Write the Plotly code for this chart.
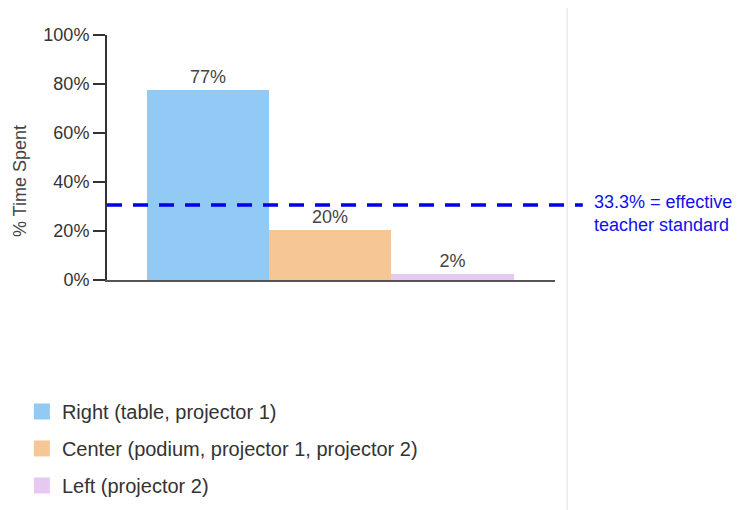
import plotly.graph_objects as go

# --- data ---
locations = ['Right (table, projector 1)',
             'Center (podium, projector 1, projector 2)',
             'Left (projector 2)']
time_spent = [77.5, 20.4, 2.6]
bar_labels = ['77%', '20%', '2%']
bar_colors = ['#92CAF6', '#F6C794', '#E6C8F3']
standard_y = 30.6
standard_text = '33.3% = effective<br>teacher standard'
y_ticks = [0, 20, 40, 60, 80, 100]
y_tick_text = ['0%', '20%', '40%', '60%', '80%', '100%']

FONT = 'Liberation Sans, Arial, sans-serif'

fig = go.Figure()

for i, (name, val, lab, col) in enumerate(zip(locations, time_spent, bar_labels, bar_colors)):
    fig.add_trace(go.Bar(
        x=[i], y=[val], name=name,
        width=1,
        marker=dict(color=col, line=dict(width=0)),
        text=[lab], textposition='outside', cliponaxis=False,
        textfont=dict(size=18, color='#444444', family=FONT),
        showlegend=False,
    ))

# legend entries with bigger square swatches
for name, col in zip(locations, bar_colors):
    fig.add_trace(go.Scatter(
        x=[None], y=[None], mode='markers', name=name,
        marker=dict(symbol='square', size=16, color=col),
        legendgroup=name,
    ))

# dashed standard line (runs a bit past the axis end)
fig.add_shape(type='line', xref='paper', yref='y',
              x0=0, x1=1.062, y0=standard_y, y1=standard_y,
              line=dict(color='#0000EE', width=3.5, dash='15px,11px'))

# thin vertical separator on the right
fig.add_shape(type='line', xref='paper', yref='paper',
              x0=1.027, x1=1.027, y0=-0.94, y1=1.15,
              line=dict(color='#DDDDDD', width=1))

fig.add_annotation(xref='paper', yref='y', x=1.083, y=standard_y,
                   text=standard_text, showarrow=False, yshift=-8,
                   xanchor='left', yanchor='middle', align='left',
                   font=dict(size=18, color='#1010EE', family=FONT))

# y axis title
fig.add_annotation(xref='paper', yref='paper', x=-0.194, y=0.404,
                   text='% Time Spent', showarrow=False, textangle=-90,
                   xanchor='center', yanchor='middle',
                   font=dict(size=18, color='#444444', family=FONT))

# page body has an 8px margin, so the figure is 8px smaller and shifted
fig.update_layout(
    width=739, height=502,
    margin=dict(l=99, r=192, t=27, b=230, autoexpand=False),
    paper_bgcolor='white', plot_bgcolor='white',
    font=dict(family=FONT, color='#333333'),
    bargap=0,
    showlegend=True,
    legend=dict(x=-0.19, y=-0.457, xanchor='left', yanchor='top',
                font=dict(size=20, color='#333333', family=FONT),
                tracegroupgap=8, itemsizing='trace'),
)

fig.update_xaxes(range=[-0.83, 2.84], showticklabels=False, ticks='',
                 showgrid=False, zeroline=False, automargin=False,
                 showline=True, linecolor='#555555', linewidth=2)
fig.update_yaxes(range=[0, 100], tickvals=y_ticks, ticktext=y_tick_text,
                 ticks='outside', ticklen=12, tickwidth=2, tickcolor='#333333',
                 tickfont=dict(size=18, color='#333333'),
                 showgrid=False, zeroline=False, automargin=False,
                 showline=True, linecolor='#333333', linewidth=2)

fig.write_html('out.html')
